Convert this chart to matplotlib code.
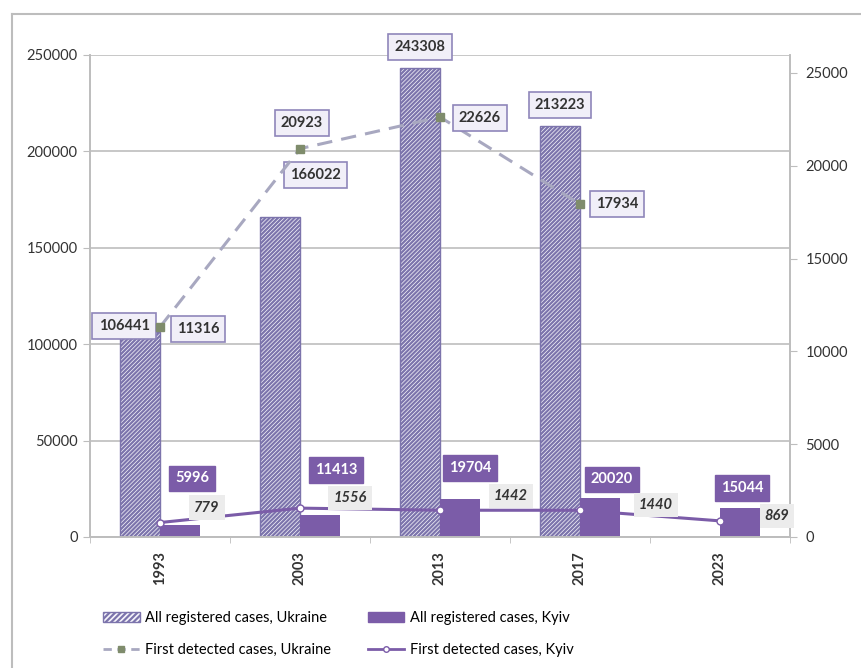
import matplotlib
matplotlib.use("Agg")
import matplotlib.pyplot as plt
import numpy as np
from matplotlib.patches import Patch
from matplotlib.lines import Line2D

plt.rcParams['font.family'] = ['Lato', 'DejaVu Sans']

years = ["1993", "2003", "2013", "2017", "2023"]
all_ukraine = [106441, 166022, 243308, 213223, None]
all_kyiv = [5996, 11413, 19704, 20020, 15044]
first_ukraine = [11316, 20923, 22626, 17934, None]
first_kyiv = [779, 1556, 1442, 1440, 869]

left_ticks = [0, 50000, 100000, 150000, 200000, 250000]
right_ticks = [0, 5000, 10000, 15000, 20000, 25000]

# label offsets in pixels (dx, dy) relative to anchor
off_all_ua = [(-16, 6), (35, 42), (0, 21), (0, 21)]
off_all_kyiv = [(12, 47), (16, 45), (10, 31), (12, 19), (2, 20)]
off_first_ua = [(38, -2), (2, 26), (40, -1), (37, 0)]
off_first_kyiv = [(47, 15), (50, 10), (71, 14), (76, 5), (57, 5)]

purple = '#7b5ca8'
hatch_col = '#7c74ac'
ua_line_col = '#a8a8c0'
ua_marker_col = '#7f8c6c'

fig = plt.figure(figsize=(8.61, 6.68), dpi=100)
ax = fig.add_axes([90/861, 1-537/668, 700/861, 482/668])
ax2 = ax.twinx()

x = np.arange(len(years))
w = 0.285

ua_idx = [i for i, v in enumerate(all_ukraine) if v is not None]
ua_vals = [all_ukraine[i] for i in ua_idx]
plt.rcParams['hatch.color'] = hatch_col
plt.rcParams['hatch.linewidth'] = 1.6
b1 = ax.bar(np.array(ua_idx) - w/2, ua_vals, w, facecolor='#f6f5fb',
            edgecolor=hatch_col, hatch='////////', linewidth=1.0, zorder=2)
b2 = ax.bar(x + w/2, all_kyiv, w, color=purple, zorder=2)

ax.set_xlim(-0.5, len(years) - 0.5)
ax.set_ylim(0, 250000)
ax.set_yticks(left_ticks)
ax.set_yticklabels([str(t) for t in left_ticks], fontsize=10.5, color='#333333')
ax.yaxis.grid(True, color='#bdbdbd', linewidth=1.2, zorder=0)
ax.set_axisbelow(True)
ax.set_xticks(x)
ax.set_xticklabels(years, rotation=90, fontsize=10.5, fontweight='bold', color='#333333')
ax.tick_params(axis='x', length=0, pad=10)
ax.set_xticks(np.arange(len(years) + 1) - 0.5, minor=True)
ax.tick_params(axis='x', which='minor', length=4, color='#bdbdbd')
ax.tick_params(axis='y', length=5, color='#bdbdbd', pad=4)

ax2.set_ylim(0, 25000 * 482 / 464)
ax2.set_yticks(right_ticks)
ax2.set_yticklabels([str(t) for t in right_ticks], fontsize=10.5, color='#333333')
ax2.tick_params(axis='y', length=5, color='#bdbdbd', pad=6)

for a in (ax, ax2):
    for s in a.spines.values():
        s.set_color('#bdbdbd')
        s.set_linewidth(1.2)
    a.spines['top'].set_visible(False)

fu_idx = [i for i, v in enumerate(first_ukraine) if v is not None]
fu_vals = [first_ukraine[i] for i in fu_idx]
ax2.plot(fu_idx, fu_vals, color=ua_line_col, linestyle=(0, (5, 3)), linewidth=2.2,
         marker='s', markersize=6, markerfacecolor=ua_marker_col,
         markeredgecolor=ua_marker_col, zorder=4)
ax2.plot(x, first_kyiv, color=purple, linewidth=2.2, marker='o', markersize=5,
         markerfacecolor='white', markeredgecolor=purple, markeredgewidth=1, zorder=4)

lbl_fs = 10.5
for k, i in enumerate(ua_idx):
    ax.annotate(str(all_ukraine[i]), (i - w/2, all_ukraine[i]), xytext=off_all_ua[k],
                textcoords='offset pixels', ha='center', va='center', fontsize=lbl_fs,
                fontweight='bold', color='#333333', zorder=6,
                bbox=dict(boxstyle='square,pad=0.42', fc='#f1eff8', ec='#8f86ba', lw=1.2))
for i in range(len(years)):
    ax.annotate(str(all_kyiv[i]), (i + w/2, all_kyiv[i]), xytext=off_all_kyiv[i],
                textcoords='offset pixels', ha='center', va='center', fontsize=lbl_fs,
                fontweight='bold', color='white', zorder=6,
                bbox=dict(boxstyle='square,pad=0.4', fc=purple, ec=purple, lw=1))
for k, i in enumerate(fu_idx):
    ax2.annotate(str(first_ukraine[i]), (i, first_ukraine[i]), xytext=off_first_ua[k],
                 textcoords='offset pixels', ha='center', va='center', fontsize=lbl_fs,
                 fontweight='bold', color='#333333', zorder=6,
                 bbox=dict(boxstyle='square,pad=0.42', fc='#f1eff8', ec='#8f86ba', lw=1.2))
for i in range(len(years)):
    ax2.annotate(str(first_kyiv[i]), (i, first_kyiv[i]), xytext=off_first_kyiv[i],
                 textcoords='offset pixels', ha='center', va='center', fontsize=lbl_fs,
                 fontweight='bold', fontstyle='italic', color='#333333', zorder=6,
                 bbox=dict(boxstyle='square,pad=0.35', fc='#ececec', ec='none'))

handles = [
    Patch(facecolor='#f6f5fb', edgecolor=hatch_col, hatch='//////', label='All registered cases, Ukraine'),
    Line2D([0], [0], color=ua_line_col, linestyle=(0, (3, 2)), linewidth=2, marker='s',
           markersize=5, markerfacecolor=ua_marker_col, markeredgecolor=ua_marker_col,
           label='First detected cases, Ukraine'),
    Patch(facecolor=purple, edgecolor=purple, label='All registered cases, Kyiv'),
    Line2D([0], [0], color=purple, linewidth=2, marker='o', markersize=4,
           markerfacecolor='white', markeredgecolor=purple, label='First detected cases, Kyiv'),
]
fig.legend(handles=handles, ncol=2, loc='upper left', bbox_to_anchor=(90/861, 1-598/668),
           frameon=False, fontsize=10.5, handlelength=2.5, handletextpad=0.4,
           columnspacing=2.5, labelspacing=1.2)

fig.add_artist(Line2D([12/861, 12/861], [0, 1-14/668], transform=fig.transFigure,
                      color='#bdbdbd', linewidth=1.5))
fig.add_artist(Line2D([12/861, 1], [1-14/668, 1-14/668], transform=fig.transFigure,
                      color='#bdbdbd', linewidth=1.5))

fig.savefig('out.png', dpi=100)
